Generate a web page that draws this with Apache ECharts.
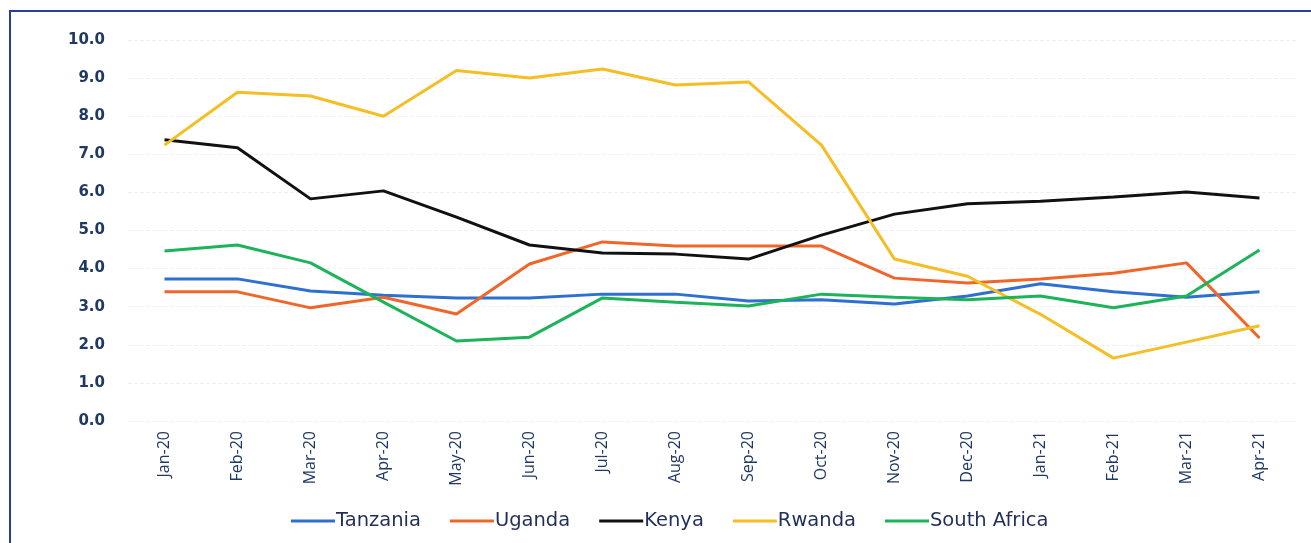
<!DOCTYPE html>
<html>
<head>
<meta charset="utf-8">
<script src="https://cdn.jsdelivr.net/npm/echarts@6/dist/echarts.min.js"></script>
<style>
  html, body { margin: 0; padding: 0; background: #fff; }
  #frame {
    position: absolute; left: 9px; top: 10px; width: 1302px; height: 533px;
    border-left: 2px solid #2a3c9c; border-top: 2px solid #2a3c9c; box-sizing: border-box;
  }
  #chart { position: absolute; left: 0; top: 0; width: 1311px; height: 543px; }
</style>
</head>
<body>
<div id="frame"></div>
<div id="chart"></div>
<script>
var months = ["Jan-20", "Feb-20", "Mar-20", "Apr-20", "May-20", "Jun-20", "Jul-20", "Aug-20",
  "Sep-20", "Oct-20", "Nov-20", "Dec-20", "Jan-21", "Feb-21", "Mar-21", "Apr-21"];

var tanzania = [3.73, 3.73, 3.41, 3.30, 3.23, 3.23, 3.33, 3.33, 3.15, 3.18, 3.07, 3.28, 3.60, 3.39, 3.25, 3.39];
var uganda = [3.39, 3.39, 2.97, 3.25, 2.81, 4.12, 4.70, 4.59, 4.59, 4.59, 3.75, 3.62, 3.73, 3.88, 4.15, 2.18];
var kenya = [7.38, 7.17, 5.83, 6.04, 5.35, 4.62, 4.41, 4.38, 4.25, 4.88, 5.43, 5.70, 5.77, 5.88, 6.01, 5.85];
var rwanda = [7.24, 8.63, 8.53, 8.00, 9.20, 9.00, 9.24, 8.82, 8.90, 7.24, 4.25, 3.80, 2.80, 1.65, 2.07, 2.50];
var southAfrica = [4.46, 4.62, 4.15, 3.12, 2.10, 2.20, 3.23, 3.12, 3.02, 3.33, 3.25, 3.18, 3.28, 2.97, 3.28, 4.49];

var names = ["Tanzania", "Uganda", "Kenya", "Rwanda", "South Africa"];
var colors = ["#2e6fd0", "#f0662a", "#111111", "#f5be24", "#1db35a"];
var values = [tanzania, uganda, kenya, rwanda, southAfrica];

var myChart = echarts.init(document.getElementById("chart"));

var series = names.map(function (n, i) {
  return {
    name: n,
    type: "line",
    data: values[i],
    symbol: "none",
    lineStyle: { width: 3, color: colors[i] },
    itemStyle: { color: colors[i] }
  };
});

myChart.setOption({
  animation: false,
  color: colors,
  grid: { left: 128, right: 15, top: 40, bottom: 122 },
  legend: {
    bottom: 7,
    left: 286,
    data: names,
    icon: "rect",
    itemWidth: 44,
    itemHeight: 3,
    itemGap: 29,
    textStyle: { fontFamily: "DejaVu Sans", fontSize: 19.5, color: "#1f2f5a", padding: [0, 0, 0, -4] }
  },
  xAxis: {
    type: "category",
    data: months,
    boundaryGap: true,
    axisLine: { show: false },
    axisTick: { show: false },
    axisLabel: {
      rotate: 90,
      margin: 10,
      fontFamily: "Open Sans",
      fontSize: 16,
      color: "#1f3864"
    }
  },
  yAxis: {
    type: "value",
    min: 0,
    max: 10,
    interval: 1,
    axisLine: { show: false },
    axisTick: { show: false },
    splitLine: { lineStyle: { color: "#f0f0f0", type: "dashed" } },
    axisLabel: {
      margin: 23,
      fontFamily: "DejaVu Sans",
      fontWeight: "bold",
      fontSize: 15,
      color: "#1f3864",
      formatter: function (v) { return v.toFixed(1); }
    }
  },
  series: series
});
</script>
</body>
</html>
